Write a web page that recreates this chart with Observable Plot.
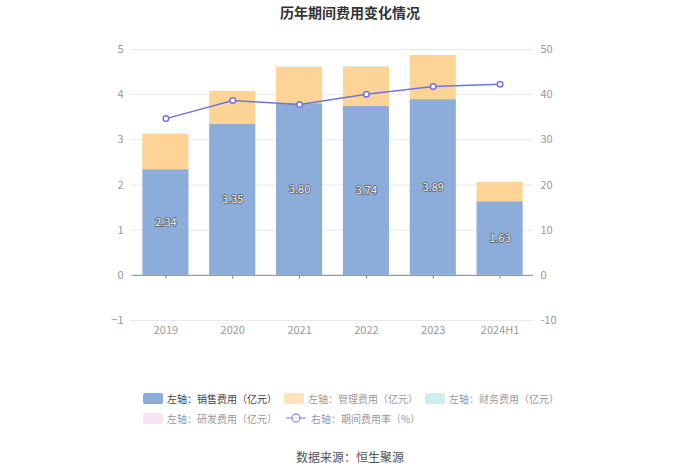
<!DOCTYPE html>
<html>
<head>
<meta charset="utf-8">
<script src="https://cdn.jsdelivr.net/npm/d3@7"></script>
<script src="https://cdn.jsdelivr.net/npm/@observablehq/plot@0.6"></script>
<style>
  html, body { margin: 0; padding: 0; background: #fff; }
  body { width: 700px; height: 474px; position: relative; overflow: hidden;
         font-family: "Noto Sans CJK SC", "Noto Sans", sans-serif; }
  #title { position: absolute; top: 2px; left: 0; width: 700px; text-align: center;
           font-size: 14px; font-weight: bold; color: #333; }
  #chart { position: absolute; top: 25px; left: 0; }
  #legend { position: absolute; top: 388px; left: 143px; font-size: 10px; color: #999; }
  .row { display: flex; height: 20px; align-items: center; }
  .item { display: flex; align-items: center; width: 141px; white-space: nowrap; }
  .sw { width: 20px; height: 11px; border-radius: 2px; margin-right: 4px; }
  #caption { position: absolute; top: 448px; left: 0; width: 700px; text-align: center;
             font-size: 12px; color: #555; }
</style>
</head>
<body>
<div id="title">历年期间费用变化情况</div>
<div id="chart"></div>
<div id="legend"></div>
<div id="caption">数据来源：恒生聚源</div>
<script>
const years = ["2019", "2020", "2021", "2022", "2023", "2024H1"];
const sales = [2.34, 3.35, 3.80, 3.74, 3.89, 1.63];
const mgmt = [0.78, 0.72, 0.80, 0.87, 0.98, 0.43];
const finance = [0.01, -0.01, 0.01, 0.01, -0.03, -0.02];
const rd = [0, 0, 0, 0, 0, 0];
const rate = [34.7, 38.7, 37.8, 40.1, 41.8, 42.3];
const leftTicks = [-1, 0, 1, 2, 3, 4, 5];
const seriesNames = ["左轴：销售费用（亿元）", "左轴：管理费用（亿元）", "左轴：财务费用（亿元）", "左轴：研发费用（亿元）"];
const rateName = "右轴：期间费用率（%）";
const colors = ["#8cacd9", "#fed496", "#b2e6e5", "#f1d5ec"];
const lineColor = "#7272e2";

const long = [];
[sales, mgmt, finance, rd].forEach((arr, k) => {
  arr.forEach((v, i) => long.push({year: years[i], type: seriesNames[k], value: v}));
});
const rateData = years.map((y, i) => ({year: y, rate: rate[i]}));
const labelData = years.map((y, i) => ({year: y, v: sales[i]}));

const chart = Plot.plot({
  width: 700,
  height: 340,
  marginTop: 24,
  marginBottom: 45,
  marginLeft: 132,
  marginRight: 167,
  style: {fontFamily: "'Noto Sans CJK SC', sans-serif", fontSize: "11px", color: "#999"},
  x: {domain: years, paddingInner: 0.31, paddingOuter: 0.155, round: false, label: null},
  y: {domain: [-1, 5], label: null},
  color: {domain: seriesNames, range: colors},
  marks: [
    Plot.gridY(leftTicks, {stroke: "#e6e9ef", strokeOpacity: 1, insetLeft: -2}),
    Plot.axisY(leftTicks, {anchor: "left", tickSize: 0, tickPadding: 9, fill: "#999", label: null}),
    Plot.axisY(leftTicks, {anchor: "right", tickSize: 0, tickPadding: 7, fill: "#999", label: null,
      tickFormat: d => String(d * 10)}),
    Plot.axisX(years, {anchor: "bottom", tickSize: 0, tickPadding: 6, fill: "#999", label: null}),
    Plot.barY(long, Plot.stackY({order: seriesNames, x: "year", y: "value", fill: "type"})),
    Plot.ruleY([0], {stroke: "#8a8a8a", strokeWidth: 1}),
    Plot.ruleX(years, {x: d => d, y1: 0, y2: -0.09, stroke: "#8a8a8a"}),
    Plot.text(labelData, {x: "year", y: d => d.v / 2, text: d => d.v.toFixed(2),
      fill: "white", stroke: "#555", strokeWidth: 1.5, fontSize: 11}),
    Plot.line(rateData, {x: "year", y: d => d.rate / 10, stroke: lineColor, strokeWidth: 1.5}),
    Plot.dot(rateData, {x: "year", y: d => d.rate / 10, r: 2.8, fill: "white", stroke: lineColor, strokeWidth: 1.5})
  ]
});
document.getElementById("chart").appendChild(chart);

// legend
const legend = document.getElementById("legend");
const rows = [[0, 1, 2], [3, "rate"]];
rows.forEach(r => {
  const row = document.createElement("div");
  row.className = "row";
  r.forEach(k => {
    const item = document.createElement("div");
    item.className = "item";
    if (k === "rate") {
      const svg = document.createElementNS("http://www.w3.org/2000/svg", "svg");
      svg.setAttribute("width", "22"); svg.setAttribute("height", "12");
      svg.style.marginRight = "4px";
      svg.style.marginLeft = "1px";
      svg.innerHTML = `<line x1="1" x2="21" y1="6" y2="6" stroke="${lineColor}" stroke-width="1.3" opacity="0.75"/><circle cx="11" cy="6" r="4" fill="white" stroke="${lineColor}" stroke-width="1.3" opacity="0.75"/>`;
      item.appendChild(svg);
      const t = document.createElement("span"); t.textContent = rateName; item.appendChild(t);
    } else {
      const sw = document.createElement("div");
      sw.className = "sw"; sw.style.background = colors[k];
      if (k !== 0) sw.style.opacity = "0.65";
      item.appendChild(sw);
      const t = document.createElement("span"); t.textContent = seriesNames[k];
      if (k === 0) t.style.color = "#444";
      item.appendChild(t);
    }
    row.appendChild(item);
  });
  legend.appendChild(row);
});
</script>
</body>
</html>
